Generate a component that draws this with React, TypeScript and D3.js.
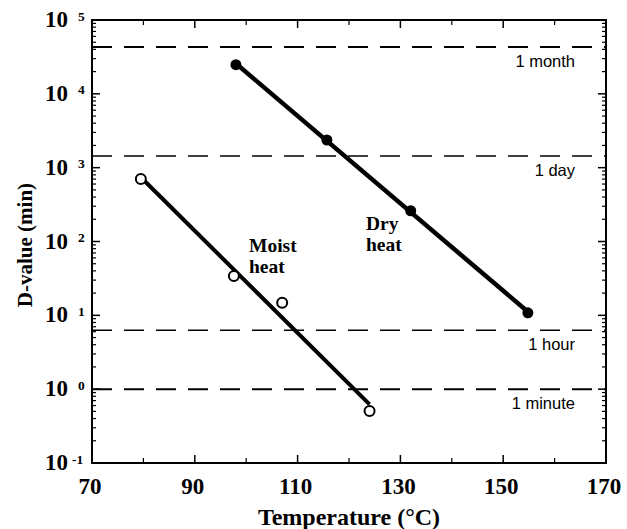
import React from "react";
import * as d3 from "d3";

// Data
const dryTemps = [98, 115.7, 132, 154.8];
const dryD = [24800, 2370, 261, 10.8];
const moistTemps = [79.5, 97.6, 107, 124];
const moistD = [701, 34, 14.8, 0.508];
const xTicks = [70, 90, 110, 130, 150, 170];
const xMinor = [80, 100, 120, 140, 160];
const yExponents = [-1, 0, 1, 2, 3, 4, 5];
const refLabels = ["1 month", "1 day", "1 hour", "1 minute"];
const refValues = [43200, 1440, 6.3, 1];
const refWidths = [2, 1.5, 1.5, 2];
const annotations = [
  { lines: ["Moist", "heat"], x: 249, y: 252 },
  { lines: ["Dry", "heat"], x: 366, y: 230 },
];

const W = 627, H = 529;
const M = { left: 92, right: 606, top: 20, bottom: 463 };

function fit(xs: number[], ys: number[]) {
  const ly = ys.map((v) => Math.log10(v));
  const mx = d3.mean(xs)!, my = d3.mean(ly)!;
  let sxy = 0, sxx = 0;
  xs.forEach((x, i) => { sxy += (x - mx) * (ly[i] - my); sxx += (x - mx) ** 2; });
  const b = sxy / sxx;
  const f = (x: number) => Math.pow(10, my + b * (x - mx));
  const x0 = d3.min(xs)!, x1 = d3.max(xs)!;
  return [[x0, f(x0)], [x1, f(x1)]] as [number, number][];
}

export default function App() {
  const x = d3.scaleLinear().domain([70, 170]).range([M.left, M.right]);
  const y = d3.scaleLog().domain([0.1, 100000]).range([M.bottom, M.top]);
  const line = d3.line<[number, number]>().x((d) => x(d[0])).y((d) => y(d[1]));
  const dryFit = fit(dryTemps, dryD);
  const moistFit = fit(moistTemps, moistD);

  const minorY: number[] = [];
  for (let e = -1; e < 5; e++) for (let k = 2; k <= 9; k++) minorY.push(k * Math.pow(10, e));

  const serif = "'Liberation Serif', 'Times New Roman', serif";
  const sans = "'Liberation Sans', Arial, sans-serif";

  return (
    <svg width={W} height={H} style={{ position: "absolute", left: 0, top: 0, background: "#fff" }}>
      {/* reference dashed lines */}
      {refValues.map((v, i) => (
        <g key={refLabels[i]}>
          <line x1={M.left} x2={M.right} y1={y(v)} y2={y(v)} stroke="#000"
            strokeWidth={refWidths[i]} strokeDasharray="20,12" />
          <text x={M.right - 31} y={y(v) + 20} textAnchor="end" fontFamily={sans}
            fontSize={16.5} fill="#000">{refLabels[i]}</text>
        </g>
      ))}
      {/* frame */}
      <rect x={M.left} y={M.top} width={M.right - M.left} height={M.bottom - M.top}
        fill="none" stroke="#000" strokeWidth={2} />
      {/* x ticks */}
      {xTicks.map((t) => (
        <g key={"xt" + t}>
          <line x1={x(t)} x2={x(t)} y1={M.bottom} y2={M.bottom - 8} stroke="#000" strokeWidth={1.5} />
          <line x1={x(t)} x2={x(t)} y1={M.top} y2={M.top + 8} stroke="#000" strokeWidth={1.5} />
          <text x={x(t) - 2} y={494} textAnchor="middle" fontFamily={serif} fontWeight="bold"
            fontSize={23}>{t}</text>
        </g>
      ))}
      {xMinor.map((t) => (
        <g key={"xm" + t}>
          <line x1={x(t)} x2={x(t)} y1={M.bottom} y2={M.bottom - 5} stroke="#000" strokeWidth={1.2} />
          <line x1={x(t)} x2={x(t)} y1={M.top} y2={M.top + 5} stroke="#000" strokeWidth={1.2} />
        </g>
      ))}
      {/* y ticks */}
      {yExponents.map((e) => {
        const v = Math.pow(10, e);
        return (
          <g key={"yt" + e}>
            <line x1={M.left} x2={M.left + 8} y1={y(v)} y2={y(v)} stroke="#000" strokeWidth={1.5} />
            <line x1={M.right} x2={M.right - 8} y1={y(v)} y2={y(v)} stroke="#000" strokeWidth={1.5} />
            <text x={68} y={y(v) + 7} textAnchor="end" fontFamily={serif} fontWeight="bold" fontSize={23}>10</text>
            <text x={e < 0 ? 72 : 78} y={y(v) + 0.5} textAnchor="start" fontFamily={serif} fontWeight="bold" fontSize={13.5}>{e}</text>
          </g>
        );
      })}
      {minorY.map((v, i) => (
        <g key={"ym" + i}>
          <line x1={M.left} x2={M.left + 4} y1={y(v)} y2={y(v)} stroke="#000" strokeWidth={1.2} />
          <line x1={M.right} x2={M.right - 4} y1={y(v)} y2={y(v)} stroke="#000" strokeWidth={1.2} />
        </g>
      ))}
      {/* fitted lines */}
      <path d={line(dryFit)!} stroke="#000" strokeWidth={4.5} fill="none" />
      <path d={line(moistFit)!} stroke="#000" strokeWidth={4} fill="none" />
      {dryTemps.map((t, i) => (
        <circle key={"d" + i} cx={x(t)} cy={y(dryD[i])} r={5.5} fill="#000" />
      ))}
      {moistTemps.map((t, i) => (
        <circle key={"m" + i} cx={x(t)} cy={y(moistD[i])} r={5} fill="#fff" stroke="#000" strokeWidth={2} />
      ))}
      {/* annotations */}
      {annotations.map((a) =>
        a.lines.map((l, j) => (
          <text key={a.lines[0] + j} x={a.x} y={a.y + j * 20.5} fontFamily={serif}
            fontWeight="bold" fontSize={19.5}>{l}</text>
        ))
      )}
      {/* axis titles */}
      <text x={349} y={525} textAnchor="middle" fontFamily={serif}
        fontWeight="bold" fontSize={24}>Temperature (°C)</text>
      <text transform={`translate(32, 245) rotate(-90)`} textAnchor="middle"
        fontFamily={serif} fontWeight="bold" fontSize={21}>D-value (min)</text>
    </svg>
  );
}
